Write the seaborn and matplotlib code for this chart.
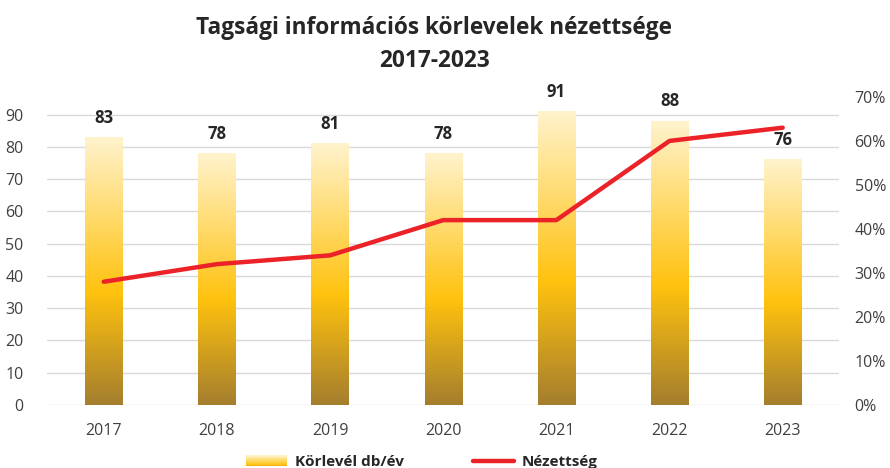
import numpy as np
import matplotlib
matplotlib.use("Agg")
import matplotlib.pyplot as plt
import seaborn as sns
from matplotlib.colors import LinearSegmentedColormap
from matplotlib.lines import Line2D
from matplotlib.patches import Rectangle
from matplotlib.legend_handler import HandlerBase

# adatok
years = ["2017", "2018", "2019", "2020", "2021", "2022", "2023"]
korlevel = [83, 78, 81, 78, 91, 88, 76]
nezettseg = [0.28, 0.32, 0.34, 0.42, 0.42, 0.60, 0.63]
left_ticks = [0, 10, 20, 30, 40, 50, 60, 70, 80, 90]
right_ticks = [0, 0.1, 0.2, 0.3, 0.4, 0.5, 0.6, 0.7]

sns.set_theme(style="white")
plt.rcParams['font.family'] = ['Open Sans', 'DejaVu Sans']
txt_col = "#404040"

# arany szinatmenet (alul barna, kozepen arany, felul krem)
gold = LinearSegmentedColormap.from_list(
    "gold", [(0, "#A47E2E"), (0.42, "#FFC20E"), (1, "#FFF3CD")])

fig = plt.figure(figsize=(8.9, 4.68), dpi=100)
ax = fig.add_axes([0.053, 0.1346, 0.89, 0.6584])

sns.barplot(x=years, y=korlevel, ax=ax, width=0.33, color="#FFC20E", zorder=2)

# gradiens a rudakra
grad = np.linspace(0, 1, 256).reshape(-1, 1)
for p in ax.patches:
    x0, w, h = p.get_x(), p.get_width(), p.get_height()
    ax.imshow(grad, cmap=gold, origin="lower", aspect="auto",
              extent=[x0, x0 + w, 0, h], zorder=2)
    p.set_visible(False)
    ax.text(x0 + w / 2, h + 3.3, f"{h:.0f}", ha="center", va="bottom",
            fontsize=12, fontweight="bold", color="#262626", zorder=5)
ax.set_xlim(-0.5, len(years) - 0.5)
ax.set_ylim(0, 95.5)

ax.set_yticks(left_ticks)
ax.yaxis.grid(True, color="#D9D9D9", linewidth=1)
ax.set_axisbelow(True)
for s in ax.spines.values():
    s.set_visible(False)
ax.tick_params(axis="both", length=0, labelsize=11.5, labelcolor=txt_col)
ax.tick_params(axis="x", pad=13)
ax.tick_params(axis="y", pad=17)
ax.set_xlabel("")
ax.set_ylabel("")

ax2 = ax.twinx()
sns.lineplot(x=np.arange(len(years)), y=nezettseg, ax=ax2, color="#EC2229",
             linewidth=3.2, zorder=4)
ax2.set_ylim(0, 0.7)
ax2.set_yticks(right_ticks)
ax2.set_yticklabels([f"{int(round(t * 100))}%" for t in right_ticks])
for s in ax2.spines.values():
    s.set_visible(False)
ax2.tick_params(axis="y", length=0, labelsize=11.5, labelcolor=txt_col, pad=11)
ax2.set_ylabel("")
ax2.grid(False)


class GradHandler(HandlerBase):
    def create_artists(self, legend, orig, xd, yd, width, height, fontsize, trans):
        arts = []
        n = 12
        for i in range(n):
            c = gold(0.3 + 0.7 * (i + 0.5) / n)
            r = Rectangle((xd, yd + height * i / n), width, height / n + 0.3,
                          facecolor=c, edgecolor="none", transform=trans)
            arts.append(r)
        return arts


bar_handle = Rectangle((0, 0), 1, 1)
line_handle = Line2D([0], [0], color="#EC2229", linewidth=3.2)
leg = fig.legend([bar_handle, line_handle], ["Körlevél db/év", "Nézettség"],
                 handler_map={Rectangle: GradHandler()},
                 loc="center", bbox_to_anchor=(0.474, 0.012), ncol=2,
                 frameon=False, handlelength=2.7, handletextpad=0.5,
                 columnspacing=4.5, prop={"weight": "bold", "size": 11})
for t in leg.get_texts():
    t.set_color("#262626")

fig.text(0.488, 0.904, "Tagsági információs körlevelek nézettsége\n2017-2023",
         ha="center", va="center", fontsize=16.3, fontweight="bold",
         color="#262626", linespacing=1.5)

fig.savefig("out.png", dpi=100)
